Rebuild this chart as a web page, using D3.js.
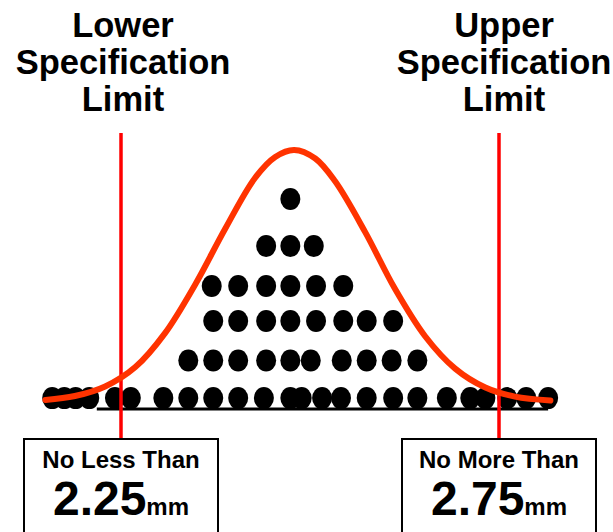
<!DOCTYPE html>
<html>
<head>
<meta charset="utf-8">
<script src="https://cdn.jsdelivr.net/npm/d3@7"></script>
<style>
  body { margin: 0; background: #fff; }
  text { font-family: "Liberation Sans", Arial, sans-serif; font-weight: bold; fill: #000; }
</style>
</head>
<body>
<svg id="mainSVG"></svg>
<script>
// spec limits (mm) and their labels
var specLimits = [2.25, 2.75];
var limitTitles = [["Lower", "Specification", "Limit"], ["Upper", "Specification", "Limit"]];
var limitCaptions = ["No Less Than", "No More Than"];
var unitLabel = "mm";

// stacked measurement dots, one array per row (mm), bottom row first
var rowHeights = [4.2, 18.7, 34.0, 47.5, 62.9, 81.1];
var dotRow0 = [2.159, 2.175, 2.190, 2.208, 2.242, 2.263, 2.306, 2.339, 2.372, 2.405, 2.439, 2.474, 2.489,
               2.516, 2.541, 2.575, 2.610, 2.642, 2.681, 2.712, 2.732, 2.761, 2.786, 2.815];
var dotRow1 = [2.339, 2.372, 2.405, 2.442, 2.474, 2.501, 2.542, 2.575, 2.608, 2.642];
var dotRow2 = [2.372, 2.405, 2.442, 2.474, 2.508, 2.544, 2.575, 2.610];
var dotRow3 = [2.370, 2.405, 2.442, 2.474, 2.508, 2.544];
var dotRow4 = [2.442, 2.474, 2.505];
var dotRow5 = [2.474];

// distribution curve (mm, relative height)
var curveX = [2.150, 2.189, 2.229, 2.269, 2.308, 2.348, 2.388, 2.427, 2.454, 2.479,
              2.507, 2.533, 2.573, 2.612, 2.652, 2.692, 2.732, 2.771, 2.818];
var curveY = [3.5, 5.0, 8.7, 16.2, 29.2, 48.0, 69.7, 89.1, 97.3, 100,
              96.7, 88.0, 68.3, 46.6, 28.2, 15.6, 8.3, 4.8, 3.3];

// extent of the base line under the dots (mm)
var baseExtent = [2.218, 2.815];

var width = 613;
var height = 532;
var lineTop = 133;
var boxTop = 439;
var boxWidth = 194;
var titleShift = [2, 5];

var svg = d3.select("#mainSVG")
    .attr("width", width)
    .attr("height", height);

var x = d3.scaleLinear()
    .domain(specLimits)
    .range([121, 499]);
var y = d3.scaleLinear()
    .domain([0, 100])
    .range([409, 150]);

// flatten rows into dot records
var dotRows = [dotRow0, dotRow1, dotRow2, dotRow3, dotRow4, dotRow5];
var dots = [];
dotRows.forEach(function(row, i) {
    row.forEach(function(v) { dots.push({ mm: v, level: rowHeights[i] }); });
});

// base line
svg.append("line")
    .attr("x1", x(baseExtent[0]))
    .attr("x2", x(baseExtent[1]))
    .attr("y1", y(0))
    .attr("y2", y(0))
    .attr("stroke", "#000")
    .attr("stroke-width", 3);

// dots
svg.append("g")
    .selectAll("ellipse")
    .data(dots)
    .enter()
    .append("ellipse")
    .attr("cx", function(d) { return x(d.mm); })
    .attr("cy", function(d) { return y(d.level); })
    .attr("rx", 10)
    .attr("ry", 11)
    .attr("fill", "#000");

// limit lines
svg.append("g")
    .selectAll("line")
    .data(specLimits)
    .enter()
    .append("line")
    .attr("x1", function(d) { return x(d); })
    .attr("x2", function(d) { return x(d); })
    .attr("y1", lineTop)
    .attr("y2", boxTop)
    .attr("stroke", "#ff0000")
    .attr("stroke-width", 3.5);

// distribution curve
var curvePts = d3.range(curveX.length).map(function(i) { return [curveX[i], curveY[i]]; });
svg.append("path")
    .datum(curvePts)
    .attr("fill", "none")
    .attr("stroke", "#ff3300")
    .attr("stroke-width", 6)
    .attr("stroke-linecap", "round")
    .attr("d", d3.line()
        .x(function(d) { return x(d[0]); })
        .y(function(d) { return y(d[1]); })
        .curve(d3.curveCatmullRom.alpha(0.5)));

// titles above each limit
specLimits.forEach(function(lim, i) {
    svg.append("g")
        .selectAll("text")
        .data(limitTitles[i])
        .enter()
        .append("text")
        .attr("x", x(lim) + titleShift[i])
        .attr("y", function(d, j) { return 37 + j * 37; })
        .attr("text-anchor", "middle")
        .style("font-size", "34.5px")
        .text(function(d) { return d; });
});

// value boxes
var fmt = d3.format(".2f");
specLimits.forEach(function(lim, i) {
    var g = svg.append("g");
    g.append("rect")
        .attr("x", x(lim) - boxWidth / 2)
        .attr("y", boxTop)
        .attr("width", boxWidth)
        .attr("height", height - boxTop + 10)
        .attr("fill", "#fff")
        .attr("stroke", "#000")
        .attr("stroke-width", 2);
    g.append("text")
        .attr("x", x(lim))
        .attr("y", 468)
        .attr("text-anchor", "middle")
        .style("font-size", "24px")
        .text(limitCaptions[i]);
    var t = g.append("text")
        .attr("x", x(lim))
        .attr("y", 515)
        .attr("text-anchor", "middle");
    t.append("tspan")
        .style("font-size", "48px")
        .text(fmt(lim));
    t.append("tspan")
        .style("font-size", "24px")
        .text(unitLabel);
});
</script>
</body>
</html>
